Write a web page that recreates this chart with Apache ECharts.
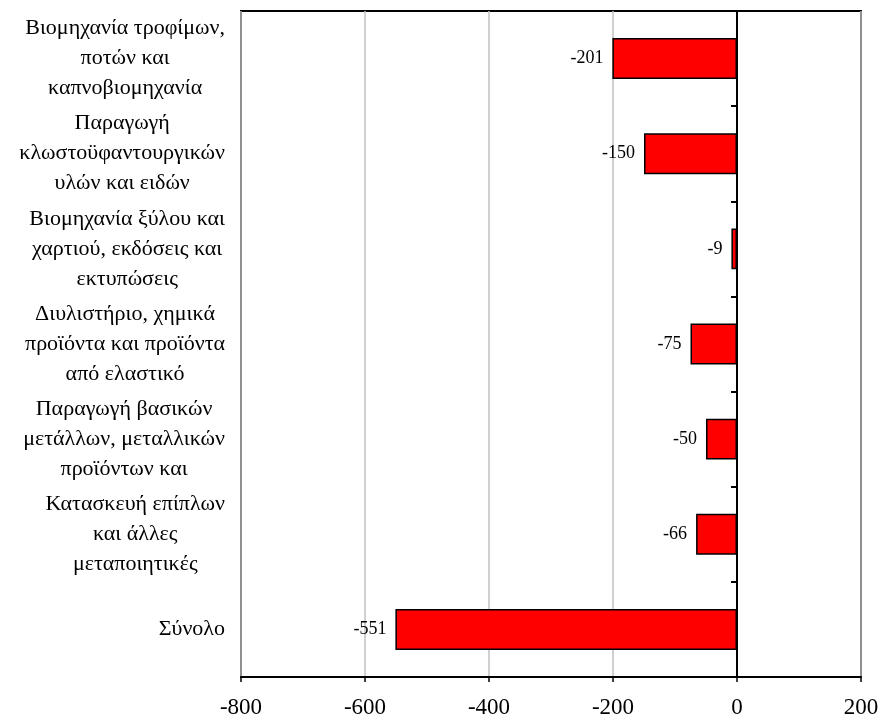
<!DOCTYPE html>
<html>
<head>
<meta charset="utf-8">
<script src="https://cdn.jsdelivr.net/npm/echarts@6/dist/echarts.min.js"></script>
<style>html,body{margin:0;padding:0;background:#fff}#c{width:879px;height:717px}</style>
</head>
<body>
<div id="c"></div>
<script>
const categories = [
  "Βιομηχανία τροφίμων,\nποτών και\nκαπνοβιομηχανία",
  "Παραγωγή\nκλωστοϋφαντουργικών\nυλών και ειδών",
  "Βιομηχανία ξύλου και\nχαρτιού, εκδόσεις και\nεκτυπώσεις",
  "Διυλιστήριο, χημικά\nπροϊόντα και προϊόντα\nαπό ελαστικό",
  "Παραγωγή βασικών\nμετάλλων, μεταλλικών\nπροϊόντων και",
  "Κατασκευή επίπλων\nκαι άλλες\nμεταποιητικές",
  "Σύνολο"
];
const values = [-201, -150, -9, -75, -50, -66, -551];
const xMin = -800, xMax = 200, xStep = 200;

const FONT = '"Liberation Serif", "Times New Roman", serif';
const chart = echarts.init(document.getElementById('c'), null, {renderer: 'canvas'});
chart.setOption({
  backgroundColor: '#fff',
  animation: false,
  grid: {left: 241, right: 18, top: 11, bottom: 40, outerBoundsMode: 'none', containLabel: false, show: true, borderColor: '#000', borderWidth: 2, backgroundColor: 'transparent'},
  xAxis: {
    type: 'value', min: xMin, max: xMax, interval: xStep,
    axisLine: {show: true, onZero: false, lineStyle: {color: '#000', width: 2}},
    axisTick: {show: true, length: 5, lineStyle: {color: '#000', width: 1.5}},
    axisLabel: {color: '#000', fontFamily: FONT, fontSize: 23, margin: 19},
    splitLine: {show: true, lineStyle: {color: '#c0c0c0', width: 1.5}}
  },
  yAxis: [
    {
      type: 'category', data: categories, inverse: true, position: 'left',
      axisLine: {show: false, onZero: false},
      axisTick: {show: false},
      axisLabel: {
        margin: 16, align: 'right',
        formatter: function (v) { return v.split('\n').map(function (l) { return '{c|' + l + '}'; }).join('\n'); },
        rich: {c: {align: 'center', color: '#000', fontFamily: FONT, fontSize: 22, lineHeight: 30}}
      }
    },
    {
      type: 'category', data: categories, inverse: true, position: 'left',
      axisLine: {show: true, onZero: true, lineStyle: {color: '#000', width: 2}},
      axisTick: {show: true, length: 6, lineStyle: {color: '#000', width: 2}},
      axisLabel: {show: false}
    }
  ],
  series: [{
    type: 'bar', data: values, yAxisIndex: 0, barWidth: '43%',
    itemStyle: {color: '#ff0000', borderColor: '#000', borderWidth: 1.5},
    label: {show: true, position: 'left', distance: 9, color: '#000', fontFamily: FONT, fontSize: 18}
  }]
});
</script>
</body>
</html>
